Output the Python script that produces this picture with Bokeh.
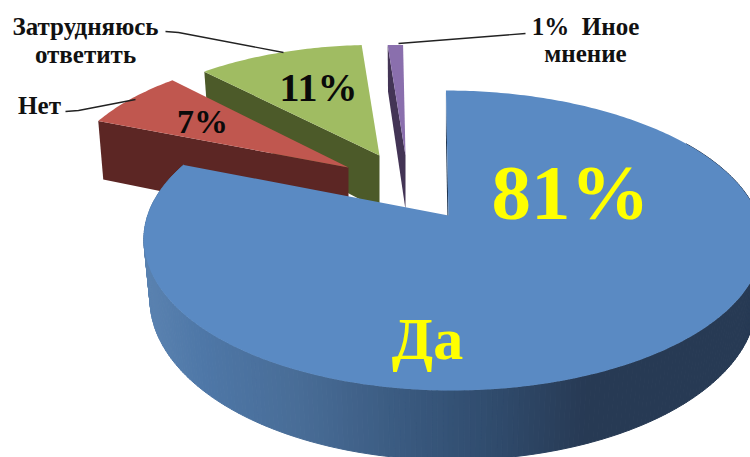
import math
from bokeh.plotting import figure
from bokeh.models import Range1d
from bokeh.core.properties import value
from bokeh.embed import file_html
from bokeh.resources import INLINE

# --- chart data ---
categories = ["Да", "Нет", "Затрудняюсь ответить", "Иное мнение"]
shares = [81, 7, 11, 1]
pct_labels = ["81%", "7%", "11%", "1%"]

# --- drawing parameters ---
top_cols = ["#5a8ac3", "#c0574f", "#a0bc62", "#8a6fad"]
wall_cols = ["#2a3f5c", "#5c2624", "#4c5a29", "#433455"]
apex = [(448, 215), (348, 167), (379, 155), (405, 155)]
scale_xy = [(1.0, 1.0), (0.945, 0.92), (0.94, 0.885), (0.94, 0.885)]
KP, B, C0, C1, SK = 1 / 6, 145.8, 305.0, 4.2, -3.0
depths = [58, 62, 54, 54]
BOT = 0.98


def project(i, th, bottom=False):
    X, Y = math.sin(th), math.cos(th)
    s = 1 / (1 + KP * Y)
    dx = (C0 * X + C1 * X * X + SK * Y) * s * scale_xy[i][0]
    dy = -B * Y * s * scale_xy[i][1]
    if bottom:
        return apex[i][0] + BOT * dx, apex[i][1] + dy + depths[i] * s
    return apex[i][0] + dx, apex[i][1] + dy


def wall_colour(x):
    stops = [(143, (90, 130, 176)), (200, (78, 119, 167)), (300, (72, 108, 150)),
             (400, (58, 90, 128)), (500, (47, 74, 107)), (585, (39, 58, 84)), (760, (39, 58, 84))]
    for (a, ca), (b, cb) in zip(stops, stops[1:]):
        if x <= b:
            t = max(0.0, (x - a) / (b - a))
            return "#%02x%02x%02x" % tuple(round(u + (v - u) * t) for u, v in zip(ca, cb))
    return "#273a54"


p = figure(width=750, height=457, x_range=Range1d(0, 750), y_range=Range1d(457, 0),
           output_backend="svg", toolbar_location=None, min_border=0,
           background_fill_color="white")
p.axis.visible = False
p.grid.visible = False
p.outline_line_color = None

total = sum(shares)
starts, acc = [], 0
for v in shares:
    starts.append(2 * math.pi * acc / total)
    acc += v
spans = [2 * math.pi * v / total for v in shares]

# back-to-front: purple, green, red, blue
for i in [3, 2, 1, 0]:
    th0, span = starts[i], spans[i]
    n = max(4, int(span / 0.015))
    ths = [th0 + span * k / n for k in range(n + 1)]
    if i == 0:
        # outer wall, gradient slices
        xs, ys, cs = [], [], []
        for a, b in zip(ths, ths[1:]):
            if a < 1.0:
                continue
            t1, t2 = project(0, a), project(0, b)
            b1, b2 = project(0, a, True), project(0, b, True)
            xs.append([t1[0], t2[0], b2[0], b1[0]])
            ys.append([t1[1], t2[1], b2[1], b1[1]])
            cs.append(wall_colour((t1[0] + t2[0]) / 2))
        p.patches(xs, ys, fill_color=cs, line_color=cs, line_width=1)
    # radial wall on the starting edge
    tc, bc = project(i, th0), project(i, th0, True)
    ax, ay = apex[i]
    p.patch([tc[0], ax, ax, bc[0]], [tc[1], ay, ay + depths[i], bc[1]],
            fill_color=wall_cols[i] if i else "#1f3550", line_color=None)
    # top face
    pts = [project(i, t) for t in ths]
    p.patch([ax] + [q[0] for q in pts], [ay] + [q[1] for q in pts],
            fill_color=top_cols[i], line_color=None)

# leader lines
p.line([65, 78, 135], [111, 110, 99], line_color="#222222", line_width=1.4)
p.line([165, 178, 283], [31, 32, 52], line_color="#222222", line_width=1.4)
p.line([398, 525], [43, 33], line_color="#222222", line_width=1.4)

serif = value("Liberation Serif")


def label(x, y, txt, size, color="#111111", align="center"):
    p.text([x], [y], text=[txt], text_font=serif, text_font_style="bold",
           text_font_size=size, text_color=color, text_align=align, text_baseline="middle")


label(570, 192, pct_labels[0], "79px", "#ffff00")
label(427, 338, categories[0], "60px", "#ffff00")
label(318, 87, pct_labels[2], "40px", "#0a0a0a")
label(202, 121, pct_labels[1], "34px", "#0a0a0a")
label(39, 105, categories[1], "25px")
words = categories[2].split()
label(85, 26, words[0], "25px")
label(85, 54, words[1], "25px")
label(585, 26, pct_labels[3] + "\u00a0\u00a0" + categories[3].split()[0], "25px")
label(585, 53, categories[3].split()[1], "25px")

open("out.html", "w").write(file_html(p, INLINE))
